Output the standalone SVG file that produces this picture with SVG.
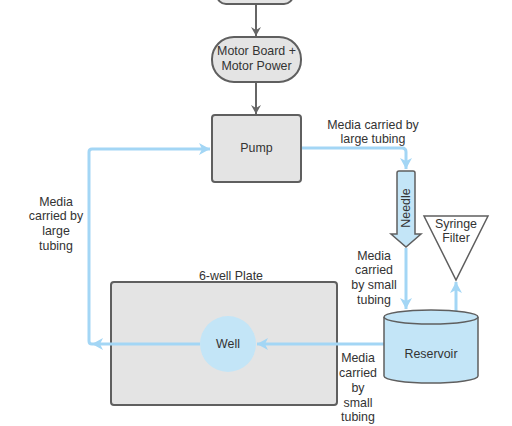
<svg xmlns="http://www.w3.org/2000/svg" width="512" height="426" viewBox="0 0 512 426">
<style>
.box{fill:#e4e4e4;stroke:#5f5f5f;stroke-width:2}
.blue{fill:#c3e5f7;stroke:#5f5f5f;stroke-width:1.5}
.t{font-family:"Liberation Sans",Arial,sans-serif;font-size:12.4px;fill:#333;text-anchor:middle}
.g{stroke:#666;stroke-width:2;fill:none}
.b{stroke:#a3d6f5;stroke-width:3;fill:none}
</style>
<defs>
<marker id="ag" markerWidth="10" markerHeight="10" refX="9" refY="5" orient="auto" markerUnits="userSpaceOnUse">
<path d="M0,0 L9,5 L0,10 L3,5 Z" fill="#666"/>
</marker>
<marker id="ab" markerWidth="12" markerHeight="12" refX="11" refY="6" orient="auto" markerUnits="userSpaceOnUse">
<path d="M0,0 L11,6 L0,12 L3,6 Z" fill="#a3d6f5"/>
</marker>
</defs>
<rect width="512" height="426" fill="#fff"/>
<g id="plate">
<text class="t" x="231" y="280">6-well Plate</text>
<rect class="box" x="111" y="282" width="226" height="123" rx="3"/>
</g>
<g id="well">
<circle cx="228" cy="344" r="28" fill="#c3e5f7"/>
<text class="t" x="228" y="348">Well</text>
</g>
<g id="connectors">
<line class="g" x1="256" y1="4" x2="256" y2="36" marker-end="url(#ag)"/>
<line class="g" x1="256" y1="82" x2="256" y2="114" marker-end="url(#ag)"/>
<path class="b" d="M301,148 H402 Q406,148 406,152 V169" marker-end="url(#ab)"/>
<line class="b" x1="406" y1="248" x2="406" y2="309" marker-end="url(#ab)"/>
<line class="b" x1="456" y1="311" x2="456" y2="282" marker-end="url(#ab)"/>
<line class="b" x1="384" y1="344" x2="257" y2="344" marker-end="url(#ab)"/>
<line class="b" x1="200" y1="344" x2="92" y2="344" marker-end="url(#ab)"/>
<path class="b" d="M92,344 Q89,344 89,341 V152 Q89,149 92,149 H210" marker-end="url(#ab)"/>
</g>
<g id="top-node">
<rect class="box" x="217" y="-30" width="76" height="34" rx="9"/>
</g>
<g id="motor-board">
<rect class="box" x="212" y="37" width="89" height="45" rx="22"/>
<text class="t" x="256.5" y="55">Motor Board +</text>
<text class="t" x="256.5" y="70">Motor Power</text>
</g>
<g id="pump">
<rect class="box" x="212" y="115" width="89" height="67" rx="3"/>
<text class="t" x="256.5" y="152">Pump</text>
</g>
<g id="needle">
<path class="blue" d="M397,173 Q397,171 399,171 H413 Q415,171 415,173 V234 H421 L406,247 L391,234 H397 Z"/>
<text class="t" transform="translate(410,208) rotate(-90)">Needle</text>
</g>
<g id="syringe-filter">
<path d="M424,216 H488 L456,280 Z" fill="#fff" stroke="#5f5f5f" stroke-width="1.5"/>
<text class="t" x="456" y="228">Syringe</text>
<text class="t" x="456" y="242">Filter</text>
</g>
<g id="reservoir">
<path class="blue" d="M384,317 V376 A47,7 0 0 0 478,376 V317"/>
<ellipse class="blue" cx="431" cy="317" rx="47" ry="7"/>
<text class="t" x="431" y="358">Reservoir</text>
</g>
<g id="labels">
<text class="t" x="373" y="129">Media carried by</text>
<text class="t" x="373" y="143">large tubing</text>
<text class="t" x="374" y="260">Media</text>
<text class="t" x="374" y="274">carried</text>
<text class="t" x="374" y="289">by small</text>
<text class="t" x="374" y="304">tubing</text>
<text class="t" x="358" y="362">Media</text>
<text class="t" x="358" y="377">carried</text>
<text class="t" x="358" y="392">by</text>
<text class="t" x="358" y="407">small</text>
<text class="t" x="358" y="421">tubing</text>
<text class="t" x="56" y="206">Media</text>
<text class="t" x="56" y="220">carried by</text>
<text class="t" x="56" y="235">large</text>
<text class="t" x="56" y="250">tubing</text>
</g>
</svg>
